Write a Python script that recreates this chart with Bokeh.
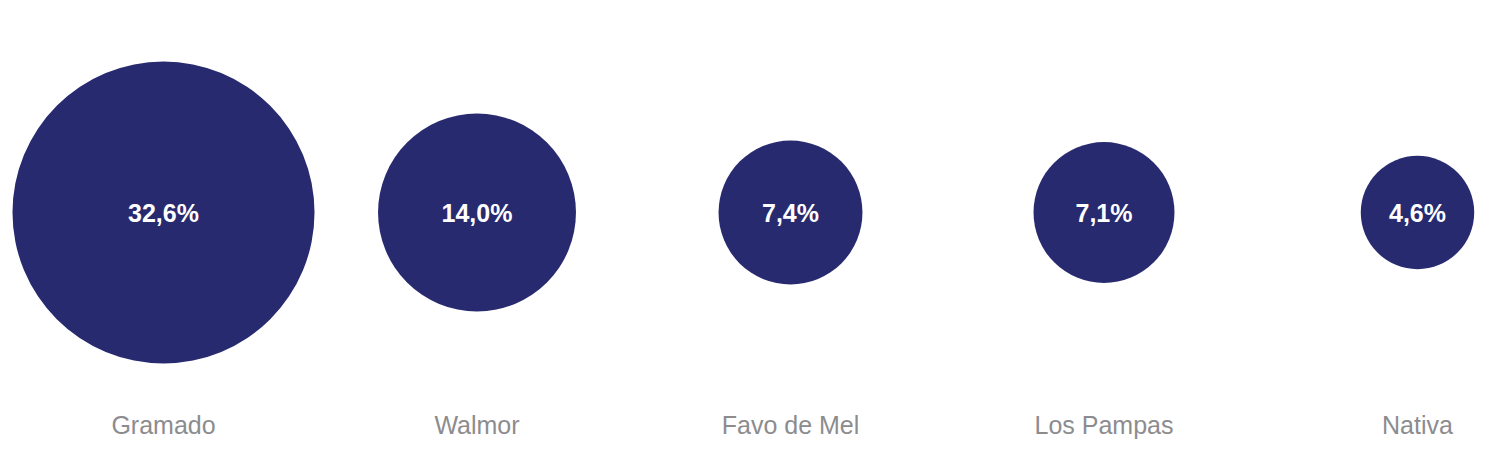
import math
from bokeh.plotting import figure
from bokeh.models import ColumnDataSource, Range1d
from bokeh.embed import file_html
from bokeh.resources import INLINE

# Data
brands = ["Gramado", "Walmor", "Favo de Mel", "Los Pampas", "Nativa"]
shares = [32.6, 14.0, 7.4, 7.1, 4.6]
share_labels = ["32,6%", "14,0%", "7,4%", "7,1%", "4,6%"]

# Layout constants
W, H = 1484, 439
SCALE = 26.45  # pixel radius per sqrt(percent)
FIRST_X = 163
STEP = 313.5
CIRCLE_Y = 227
NAME_Y = 15

idx = list(range(len(brands)))
radii = [SCALE * math.sqrt(v) for v in shares]

src = ColumnDataSource(dict(x=idx, y=[CIRCLE_Y] * len(idx), r=radii,
                            lab=share_labels, name=brands,
                            ny=[NAME_Y] * len(idx)))

p = figure(width=W, height=H, output_backend="svg", toolbar_location=None,
           x_range=Range1d(-FIRST_X / STEP, (W - FIRST_X) / STEP),
           y_range=Range1d(0, H), min_border=0)
p.axis.visible = False
p.grid.visible = False
p.outline_line_color = None
p.background_fill_color = "white"
p.border_fill_color = "white"

p.circle(x="x", y="y", radius="r", radius_units="screen", source=src,
         fill_color="#282A70", line_color=None)
p.text(x="x", y="y", text="lab", source=src, text_align="center",
       text_baseline="middle", text_color="white", text_font_size="25px",
       text_font_style="bold", text_font={"value": "Liberation Sans"})
p.text(x="x", y="ny", text="name", source=src, text_align="center",
       text_baseline="middle", text_color="#8C8C8F", text_font_size="25px",
       text_font={"value": "Liberation Sans"})

open("out.html", "w").write(file_html(p, INLINE))
